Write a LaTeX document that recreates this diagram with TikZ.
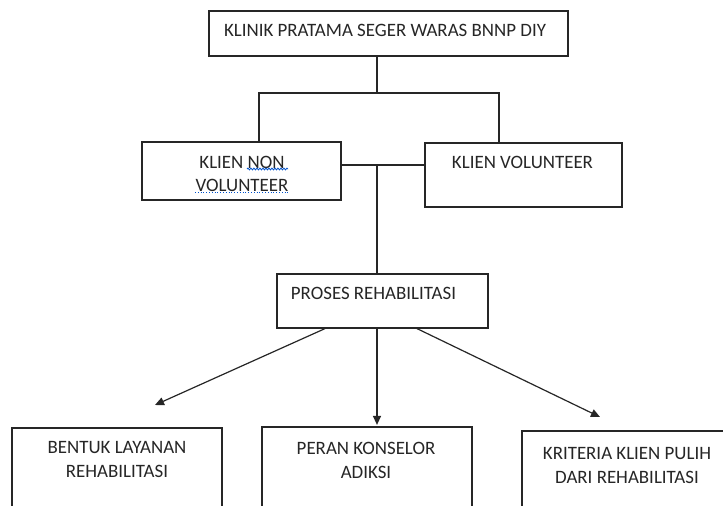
\documentclass[tikz,border=0pt]{standalone}
\usepackage{fontspec}
\setmainfont{Carlito}
\usetikzlibrary{arrows.meta,decorations.pathmorphing}
\begin{document}
\begin{tikzpicture}[x=1pt,y=-1pt,
  box/.style={draw=black!85,line width=1.2pt,rectangle,inner sep=0pt},
  txt/.style={inner sep=0pt,anchor=north,align=center,text=black!85,
    font=\fontsize{18.9}{24}\selectfont},
  link/.style={draw=black!85,line width=1.2pt},
  arr/.style={link,-{Triangle[length=9pt,width=8pt]}},
  spell/.style={draw=blue!60!cyan!80!black,line width=0.8pt}]
\useasboundingbox (0,0) rectangle (723,506);
\clip (0,0) rectangle (723,506);
\fill[white] (0,0) rectangle (723,506);
% boxes
\node[box,minimum width=359pt,minimum height=45pt] (top) at (388.5,33.5) {};
\node[box,minimum width=199pt,minimum height=58pt] (left) at (241.5,171) {};
\node[box,minimum width=197pt,minimum height=64pt] (right) at (523.5,175) {};
\node[box,minimum width=211pt,minimum height=54pt] (proses) at (382.5,301) {};
\node[box,minimum width=210pt,minimum height=92pt] (bentuk) at (117,474) {};
\node[box,minimum width=210pt,minimum height=93pt] (peran) at (367,473.5) {};
\node[box,minimum width=218pt,minimum height=89pt] (kriteria) at (631,475.5) {};
% texts
\node[txt] (ttop) at (385,24) {KLINIK PRATAMA SEGER WARAS BNNP DIY};
\node[txt,font=\fontsize{18.9}{22.6}\selectfont] (tleft) at (242,156) {KLIEN NON\\VOLUNTEER};
\node[txt] (tright) at (522.5,156) {KLIEN VOLUNTEER};
\node[txt] (tproses) at (373.5,287) {PROSES REHABILITASI};
\node[txt] (tbentuk) at (117,441) {BENTUK LAYANAN\\REHABILITASI};
\node[txt] (tperan) at (366,442) {PERAN KONSELOR\\ADIKSI};
\node[txt] (tkriteria) at (627,447) {KRITERIA KLIEN PULIH\\DARI REHABILITASI};
% spell-check marks
\draw[spell,decorate,decoration={snake,amplitude=0.9pt,segment length=3pt}] (247,169) -- (288,169);
\draw[spell,dotted] (195,192.5) -- (288,192.5);
% tree connectors
\coordinate (j1) at (377,93);
\coordinate (jl) at (259,93);
\coordinate (jr) at (499,93);
\coordinate (j2) at (377,165);
\draw[link] (top.south -| j1) -- (j1);
\draw[link] (jl |- left.north) -- (jl) -- (jr) -- (jr |- right.north);
\draw[link] (left.east |- j2) -- (right.west |- j2);
\draw[link] (j2) -- (j2 |- proses.north);
% arrows
\coordinate (pl) at (325,328);
\coordinate (pr) at (417,328);
\coordinate (tipl) at (155,405);
\coordinate (tipr) at (600,417);
\draw[arr] (proses.south -| pl) -- (tipl);
\draw[arr,shorten >=1.5pt] (proses.south -| j2) -- (peran.north -| j2);
\draw[arr] (proses.south -| pr) -- (tipr);
\end{tikzpicture}
\end{document}
